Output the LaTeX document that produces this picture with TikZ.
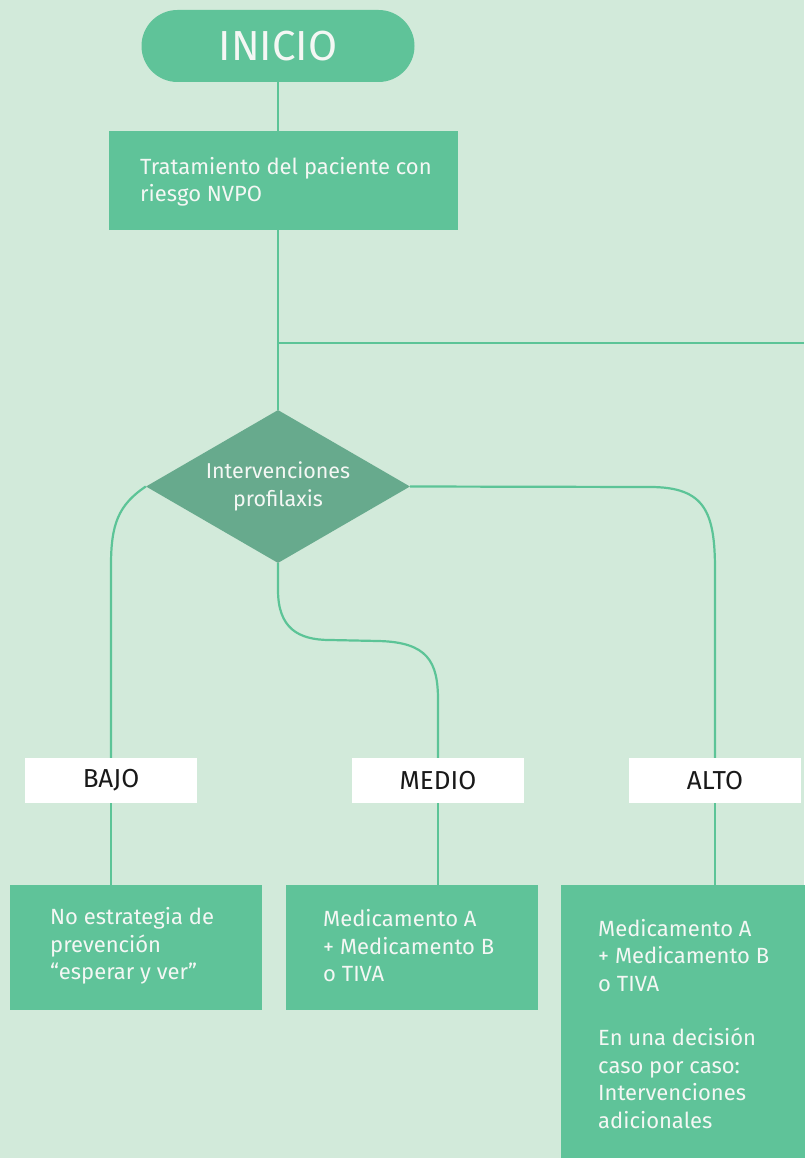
\documentclass[tikz,border=0pt]{standalone}
\usepackage{fontspec}
\setmainfont{Fira Sans}
\usetikzlibrary{positioning}
\usetikzlibrary{shapes.geometric}

\definecolor{bgcolor}{HTML}{D2EADA}
\definecolor{boxgreen}{HTML}{5FC399}
\definecolor{linegreen}{HTML}{5CC497}
\definecolor{diamondgreen}{HTML}{67AA8D}
\definecolor{textwhite}{HTML}{F4F7F4}

\begin{document}
\begin{tikzpicture}[x=1pt,y=-1pt]

\tikzstyle{startnode} = [rectangle, rounded corners=36pt, fill=boxgreen, minimum width=273pt, minimum height=72pt, text=textwhite, font=\fontsize{42}{42}\selectfont]
\tikzstyle{boxnode} = [rectangle, fill=boxgreen, inner sep=0pt]
\tikzstyle{boxtext} = [anchor=west, align=left, inner sep=0pt, text=textwhite, font=\fontsize{22}{27.5}\selectfont]
\tikzstyle{decisionnode} = [diamond, aspect=1.725, fill=diamondgreen, minimum width=264pt, minimum height=153pt, inner sep=0pt, text=textwhite, align=center, font=\fontsize{21.5}{28}\selectfont]
\tikzstyle{levelnode} = [rectangle, fill=white, minimum width=172pt, minimum height=45pt, inner sep=0pt, text=black!90, font=\fontsize{26}{26}\selectfont]
\tikzstyle{connector} = [linegreen, line width=2.2pt]

\fill [bgcolor] (0,0) rectangle (804,1158);
\useasboundingbox (0,0) rectangle (804,1158);

% top of the chart
\node [startnode] (inicio) at (278,46) {INICIO};
\node [boxnode, minimum width=349pt, minimum height=99pt] (riesgo) at (283.5,180.5) {};
\node [boxtext] (riesgotext) at (140,182) {Tratamiento del paciente con\\riesgo NVPO};
\coordinate (split) at (278,343);
\coordinate (offpage) at (804,343);
\node [decisionnode] (interv) at (278,486.5) {Intervenciones\\profilaxis};

% risk levels
\node [levelnode] (bajo) at (111,780.5) {BAJO};
\node [levelnode] (medio) at (438,780.5) {MEDIO};
\node [levelnode] (alto) at (715,780.5) {ALTO};

% actions
\node [boxnode, minimum width=252pt, minimum height=125pt] (accbajo) at (136,947.5) {};
\node [boxtext] (accbajotext) at (50,946) {No estrategia de\\prevención\\“esperar y ver”};
\node [boxnode, minimum width=252pt, minimum height=125pt] (accmedio) at (412,947.5) {};
\node [boxtext] (accmediotext) at (323,946) {Medicamento A\\+ Medicamento B\\o TIVA};
\node [boxnode, minimum width=245pt, minimum height=273pt] (accalto) at (683.5,1021.5) {};
\node [boxtext] (accaltotext) at (598,1024) {Medicamento A\\+ Medicamento B\\o TIVA\\[27pt]En una decisión\\caso por caso:\\Intervenciones\\adicionales};

\draw [connector] (inicio.south) -- (inicio.south |- riesgo.north);
\draw [connector] (interv.north |- riesgo.south) -- (interv.north);
\draw [connector] (split) -- (offpage);
\draw [connector] (interv.west) .. controls (118,505) and (111,525) .. (111,565) -- (bajo.north);
\draw [connector] (interv.south) -- (278,590) .. controls (278,628) and (298,640) .. (330,640) -- (378,641) .. controls (428,642) and (438,662) .. (438,700) -- (medio.north);
\draw [connector] (interv.east) -- (650,487) .. controls (705,487) and (715,512) .. (715,570) -- (alto.north);
\draw [connector] (bajo.south) -- (bajo.south |- accbajo.north);
\draw [connector] (medio.south) -- (medio.south |- accmedio.north);
\draw [connector] (alto.south) -- (alto.south |- accalto.north);

\end{tikzpicture}
\end{document}
